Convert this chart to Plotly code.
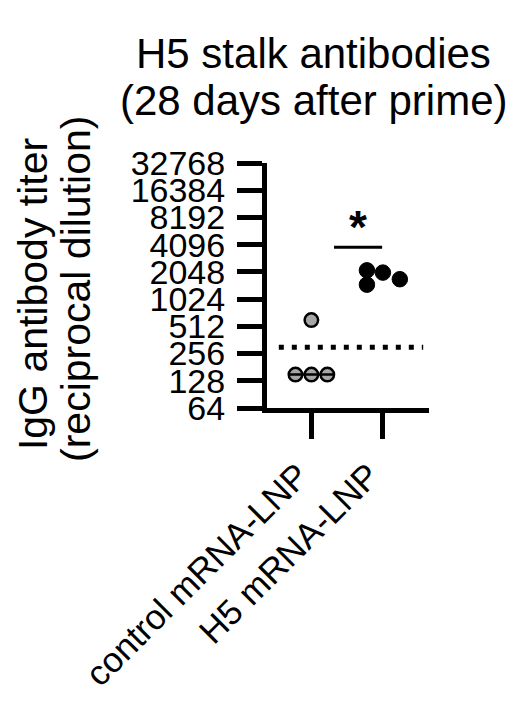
import math
import plotly.graph_objects as go

# ---- data ----
categories = ["control mRNA-LNP", "H5 mRNA-LNP"]
control_values = [150, 150, 150, 600]
h5_values = [2130, 2010, 1700, 1480]
control_median = 150
lod_value = 300
tick_values = [64, 128, 256, 512, 1024, 2048, 4096, 8192, 16384, 32768]
tick_labels = [str(v) for v in tick_values]
title_lines = ["H5 stalk antibodies", "(28 days after prime)"]
y_title_lines = ["IgG antibody titer", "(reciprocal dilution)"]
sig_text = "*"

# jitter offsets (layout only)
control_jitter = [-0.225, 0.0, 0.225, 0.0]
h5_jitter = [-0.215, 0.01, 0.25, -0.215]

FONT = "Liberation Sans, Arial, sans-serif"
W, H = 505, 685
ML, MR, MT, MB = 258.5, 84, 155.3, 285
PW, PH = W - ML - MR, H - MT - MB


def px_to_paper(fx, fy):
    return (fx - ML) / PW, 1 - (fy - MT) / PH


fig = go.Figure()

fig.add_trace(go.Scatter(
    x=[0 + j for j in control_jitter], y=control_values, mode="markers",
    marker=dict(size=13.5, color="#a6a6a6", line=dict(color="black", width=2.5)),
    showlegend=False, hoverinfo="y"))
fig.add_trace(go.Scatter(
    x=[1 + j for j in h5_jitter], y=h5_values, mode="markers",
    marker=dict(size=15.5, color="black", line=dict(color="black", width=1)),
    showlegend=False, hoverinfo="y"))
# median line for control group
fig.add_trace(go.Scatter(
    x=[-0.32, 0.32], y=[control_median, control_median], mode="lines",
    line=dict(color="black", width=2.5), showlegend=False, hoverinfo="skip"))

# limit of detection (dotted)
fig.add_shape(type="line", xref="x", yref="y", x0=-0.46, x1=1.58,
              y0=lod_value, y1=lod_value,
              line=dict(color="black", width=5, dash="5px,8px"))
# significance bar
sig_y = 3830
fig.add_shape(type="line", xref="x", yref="y", x0=0.32, x1=1.0,
              y0=sig_y, y1=sig_y, line=dict(color="black", width=3))
fig.add_annotation(x=0.66, y=math.log10(sig_y), xref="x", yref="y",
                   text="<b>" + sig_text + "</b>", showarrow=False,
                   yanchor="bottom", yshift=-8,
                   font=dict(family=FONT, size=46, color="black"))

# title (two lines)
for txt, yc in zip(title_lines, [46, 93]):
    ax, ay = px_to_paper(305, yc)
    fig.add_annotation(x=ax, y=ay, xref="paper", yref="paper",
                       xanchor="center", yanchor="middle", text=txt,
                       showarrow=False,
                       font=dict(family=FONT, size=42, color="black"))

# y axis title (two lines, rotated)
for txt, xc, yc in zip(y_title_lines, [24, 67], [286, 281]):
    ax, ay = px_to_paper(xc, yc)
    fig.add_annotation(x=ax, y=ay, xref="paper", yref="paper",
                       xanchor="center", yanchor="middle", text=txt,
                       textangle=-90, showarrow=False,
                       font=dict(family=FONT, size=41, color="black"))

fig.update_layout(
    width=W, height=H,
    margin=dict(l=ML, r=MR, t=MT, b=MB, pad=0, autoexpand=False),
    paper_bgcolor="white", plot_bgcolor="white",
    font=dict(family=FONT, color="black"),
    xaxis=dict(range=[-0.627, 1.662], tickvals=[0, 1], ticktext=categories,
               tickangle=-45, ticks="outside", ticklen=26, tickwidth=5,
               tickcolor="black", showline=True, linewidth=5, linecolor="black",
               showgrid=False, zeroline=False, ticklabelshift=-13,
               ticklabelstandoff=2, automargin=False,
               tickfont=dict(family=FONT, size=35, color="black")),
    yaxis=dict(type="log", range=[math.log10(64), math.log10(32768)],
               tickvals=tick_values, ticktext=tick_labels,
               ticks="outside", ticklen=25, tickwidth=5, tickcolor="black",
               showline=True, linewidth=5, linecolor="black",
               showgrid=False, zeroline=False, ticklabelstandoff=5,
               automargin=False,
               tickfont=dict(family=FONT, size=34, color="black")),
)

fig.write_html("out.html")
